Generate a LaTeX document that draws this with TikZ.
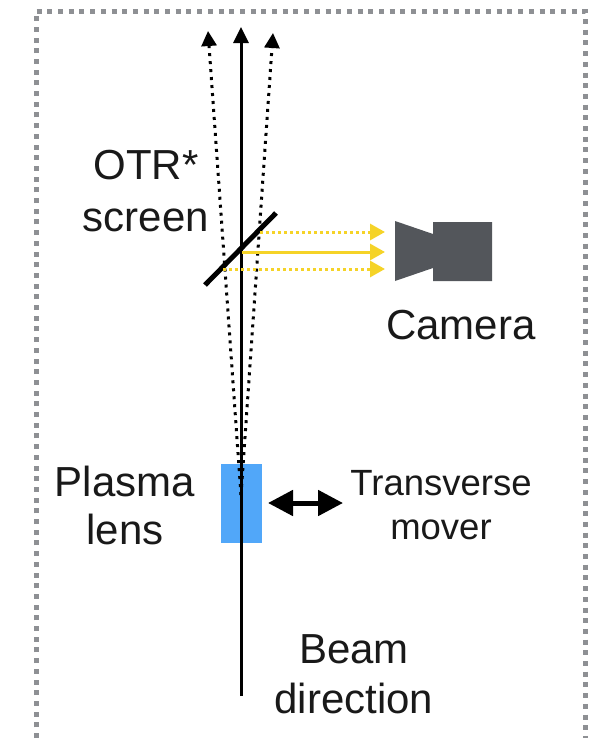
\documentclass[tikz,border=0pt]{standalone}
\usepackage{fontspec}
\setmainfont{Liberation Sans}
\usetikzlibrary{arrows.meta}
\definecolor{framegray}{HTML}{8E9094}
\definecolor{lensblue}{HTML}{51A7F9}
\definecolor{lightyellow}{HTML}{F5D328}
\definecolor{camgray}{HTML}{53565B}
\tikzset{
  x=1pt,y=-1pt,
  lbl/.style={inner sep=0pt,align=center,font=\fontsize{42}{53}\selectfont,text=black!90},
  lblsmall/.style={inner sep=0pt,align=center,font=\fontsize{36.5}{44}\selectfont,text=black!90},
  beam/.style={line width=3pt,-{Triangle[length=16pt,width=15pt]}},
  diverge/.style={line width=3pt,dash pattern=on 3pt off 5pt,-{Triangle[length=15pt,width=15pt]}},
  ray/.style={draw=lightyellow,line width=3pt,-{Triangle[length=15pt,width=16pt]},color=lightyellow},
  raydot/.style={ray,dash pattern=on 3pt off 3pt},
  frameline/.style={draw=framegray,line width=5pt,dash pattern=on 5pt off 5.7pt}
}
\begin{document}
\begin{tikzpicture}
\useasboundingbox (0,0) rectangle (594,742);
\draw[frameline] (36,738) -- (36,11) -- (585,11) -- (585,738);
\begin{scope}
\clip (0,0) rectangle (594,742);
\draw[frameline,opacity=.5] (36,744) -- (585,744);
\end{scope}
\node[fill=lensblue,minimum width=41pt,minimum height=79pt,inner sep=0pt] (lens) at (241.5,503.5) {};
\coordinate (focus) at (241,495);
\coordinate (start) at (241,696);
\coordinate (top) at (241,27);
\coordinate (topl) at (208,31);
\coordinate (topr) at (273,33);
\draw[beam] (start) -- (top);
\draw[diverge] (focus) -- (topl);
\draw[diverge] (focus) -- (topr);
\coordinate (mirrorA) at (205,285);
\coordinate (mirrorB) at (276,213);
\draw[line width=5pt] (mirrorA) -- (mirrorB);
\coordinate (r1) at (260,232); \coordinate (r1e) at (385,232);
\coordinate (r2) at (242,252); \coordinate (r2e) at (385,252);
\coordinate (r3) at (223,269); \coordinate (r3e) at (385,269);
\draw[raydot] (r1) -- (r1e);
\draw[ray] (r2) -- (r2e);
\draw[raydot] (r3) -- (r3e);
\fill[camgray] (395,221) -- (433,234) -- (433,222) -- (492,222) -- (492,281) -- (433,281) -- (433,268) -- (395,281) -- cycle;
\node[lbl] (otr) at (146,191) {OTR*\\[-1pt]screen};
\node[lbl] (cam) at (461,325) {Camera};
\node[lbl,font=\fontsize{42}{48}\selectfont] (pl) at (125,505) {Plasma\\lens};
\node[lblsmall] (tm) at (441,505) {Transverse\\mover};
\node[lbl,font=\fontsize{42}{50}\selectfont] (bd) at (354,674) {Beam\\direction};
\coordinate (mL) at (268,503); \coordinate (mR) at (343,503);
\draw[line width=5pt,{Triangle[length=25pt,width=25pt]}-{Triangle[length=25pt,width=25pt]}] (mL) -- (mR);
\end{tikzpicture}
\end{document}
